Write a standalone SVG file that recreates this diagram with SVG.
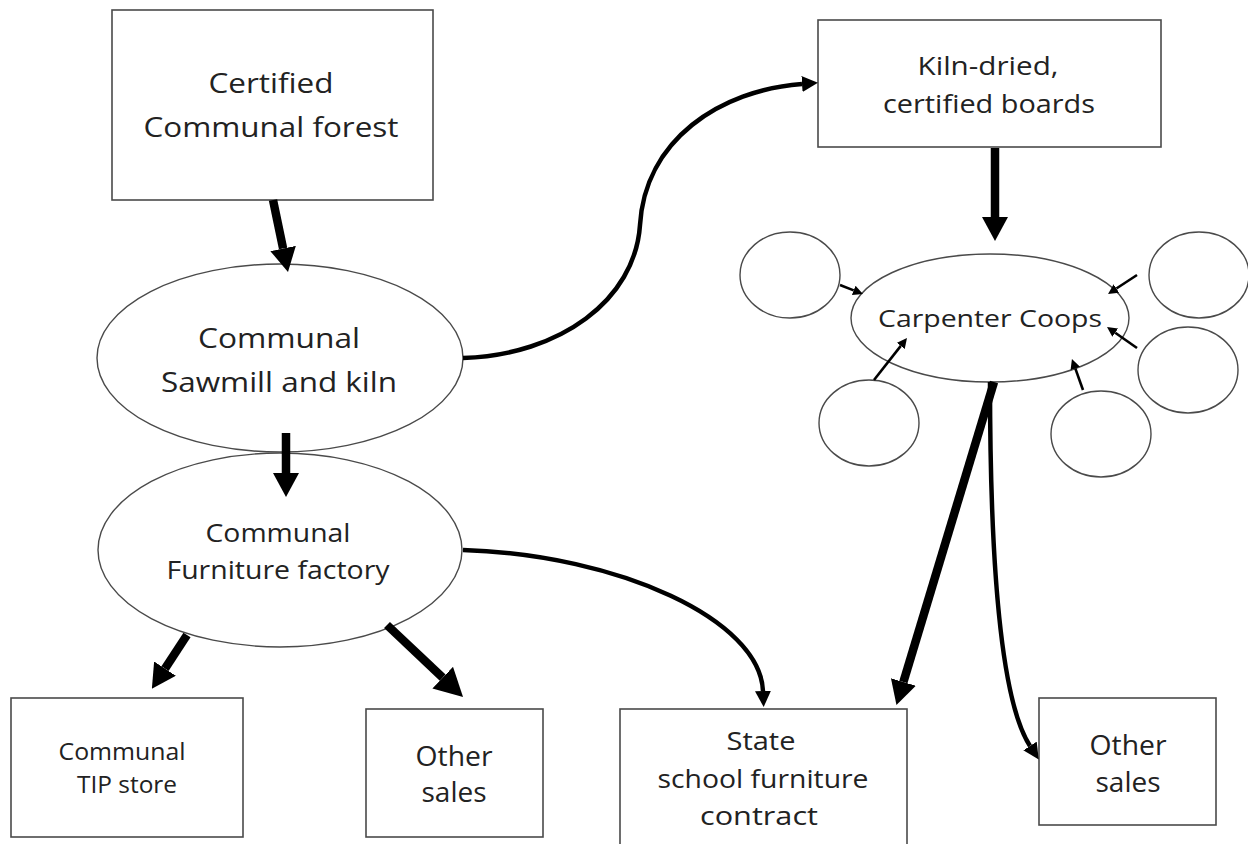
<svg xmlns="http://www.w3.org/2000/svg" width="1248" height="844" viewBox="0 0 1248 844">
<style>
.box{fill:#fff;stroke:#4a4a4a;stroke-width:1.6}
.ell{fill:#fff;stroke:#4a4a4a;stroke-width:1.4}
.t{font-family:"Open Sans","Liberation Sans",sans-serif;fill:#222;text-anchor:middle}
.thick{fill:none;stroke:#000;stroke-width:8.5}
.mid{fill:none;stroke:#000;stroke-width:4.5}
.thin{fill:none;stroke:#000;stroke-width:2.6}
</style>
<defs>
<marker id="hBig" markerUnits="userSpaceOnUse" viewBox="0 0 24 26" markerWidth="24" markerHeight="26" refX="0" refY="13" orient="auto"><path d="M0,0 L24,13 L0,26 z" fill="#000"/></marker>
<marker id="hBig2" markerUnits="userSpaceOnUse" viewBox="0 0 28 30" markerWidth="28" markerHeight="30" refX="0" refY="15" orient="auto"><path d="M0,0 L28,15 L0,30 z" fill="#000"/></marker>
<marker id="hMid" markerUnits="userSpaceOnUse" viewBox="0 0 16 16" markerWidth="16" markerHeight="16" refX="0" refY="8" orient="auto"><path d="M0,0 L16,8 L0,16 z" fill="#000"/></marker>
<marker id="hSmall" markerUnits="userSpaceOnUse" viewBox="0 0 10 10" markerWidth="10" markerHeight="10" refX="0" refY="5" orient="auto"><path d="M0,0 L10,5 L0,10 z" fill="#000"/></marker>
</defs>

<g id="forest">
<rect class="box" x="112" y="10" width="321" height="190"/>
<text class="t" x="271" y="93" font-size="28" textLength="125" lengthAdjust="spacingAndGlyphs">Certified</text>
<text class="t" x="271" y="137" font-size="28" textLength="255" lengthAdjust="spacingAndGlyphs">Communal forest</text>
</g>
<g id="sawmill">
<ellipse class="ell" cx="280" cy="358" rx="183" ry="94"/>
<text class="t" x="279" y="348" font-size="28" textLength="162" lengthAdjust="spacingAndGlyphs">Communal</text>
<text class="t" x="279" y="392" font-size="28" textLength="236" lengthAdjust="spacingAndGlyphs">Sawmill and kiln</text>
</g>
<g id="factory">
<ellipse class="ell" cx="280" cy="550" rx="182" ry="97"/>
<text class="t" x="278" y="542" font-size="25" textLength="145" lengthAdjust="spacingAndGlyphs">Communal</text>
<text class="t" x="278" y="579" font-size="25" textLength="223" lengthAdjust="spacingAndGlyphs">Furniture factory</text>
</g>
<g id="tip-store">
<rect class="box" x="11" y="698" width="232" height="139"/>
<text class="t" x="122" y="760" font-size="24" textLength="127" lengthAdjust="spacingAndGlyphs">Communal</text>
<text class="t" x="127" y="793" font-size="24" textLength="100" lengthAdjust="spacingAndGlyphs">TIP store</text>
</g>
<g id="other-sales-left">
<rect class="box" x="366" y="709" width="177" height="128"/>
<text class="t" x="454" y="766" font-size="27" textLength="77" lengthAdjust="spacingAndGlyphs">Other</text>
<text class="t" x="454" y="802" font-size="27" textLength="65" lengthAdjust="spacingAndGlyphs">sales</text>
</g>
<g id="state">
<rect class="box" x="620" y="709" width="287" height="145"/>
<text class="t" x="761" y="750" font-size="25" textLength="69" lengthAdjust="spacingAndGlyphs">State</text>
<text class="t" x="763" y="788" font-size="25" textLength="211" lengthAdjust="spacingAndGlyphs">school furniture</text>
<text class="t" x="759" y="825" font-size="25" textLength="118" lengthAdjust="spacingAndGlyphs">contract</text>
</g>
<g id="kiln-boards">
<rect class="box" x="818" y="20" width="343" height="127"/>
<text class="t" x="988" y="75" font-size="26" textLength="141" lengthAdjust="spacingAndGlyphs">Kiln-dried,</text>
<text class="t" x="989" y="113" font-size="26" textLength="212" lengthAdjust="spacingAndGlyphs">certified boards</text>
</g>
<g id="carpenter-coops">
<ellipse class="ell" cx="990" cy="318" rx="139" ry="64"/>
<text class="t" x="990" y="327" font-size="24" textLength="224" lengthAdjust="spacingAndGlyphs">Carpenter Coops</text>
</g>
<g id="coop-1"><ellipse class="ell" cx="790" cy="275" rx="50" ry="43"/></g>
<g id="coop-2"><ellipse class="ell" cx="1199" cy="275" rx="50" ry="43"/></g>
<g id="coop-3"><ellipse class="ell" cx="1188" cy="370" rx="50" ry="43"/></g>
<g id="coop-4"><ellipse class="ell" cx="869" cy="423" rx="50" ry="43"/></g>
<g id="coop-5"><ellipse class="ell" cx="1101" cy="434" rx="50" ry="43"/></g>
<g id="other-sales-right">
<rect class="box" x="1039" y="698" width="177" height="127"/>
<text class="t" x="1128" y="755" font-size="27" textLength="77" lengthAdjust="spacingAndGlyphs">Other</text>
<text class="t" x="1128" y="792" font-size="27" textLength="65" lengthAdjust="spacingAndGlyphs">sales</text>
</g>

<g id="connectors">
<line class="thick" x1="273" y1="200" x2="283.1" y2="248.5" marker-end="url(#hBig)"/>
<line class="thick" x1="286" y1="433" x2="286" y2="473" marker-end="url(#hBig)"/>
<line class="thick" stroke-width="7.5" x1="187" y1="635" x2="165" y2="668.6" marker-end="url(#hBig)"/>
<line class="thick" x1="387" y1="625" x2="442.7" y2="677.7" marker-end="url(#hBig2)"/>
<line class="thick" x1="995" y1="148" x2="995" y2="217" marker-end="url(#hBig)"/>
<line class="thick" stroke-width="9.5" x1="994" y1="382" x2="903.4" y2="682" marker-end="url(#hBig)"/>
<path class="mid" d="M463,358 C560,355 635,300 640,225 C645,140 720,90 802,84" marker-end="url(#hMid)"/>
<path class="mid" d="M463,550 C620,555 760,620 763,691" marker-end="url(#hMid)"/>
<path class="mid" d="M990,382 C990,560 1000,700 1030,746" marker-end="url(#hMid)"/>
<line class="thin" x1="840" y1="285" x2="853.7" y2="290.4" marker-end="url(#hSmall)"/>
<line class="thin" x1="1137" y1="275" x2="1116.4" y2="288.5" marker-end="url(#hSmall)"/>
<line class="thin" x1="1137" y1="348" x2="1115.2" y2="332.7" marker-end="url(#hSmall)"/>
<line class="thin" x1="874" y1="380" x2="900.8" y2="345.9" marker-end="url(#hSmall)"/>
<line class="thin" x1="1083" y1="390" x2="1075.3" y2="368.4" marker-end="url(#hSmall)"/>
</g>
</svg>
